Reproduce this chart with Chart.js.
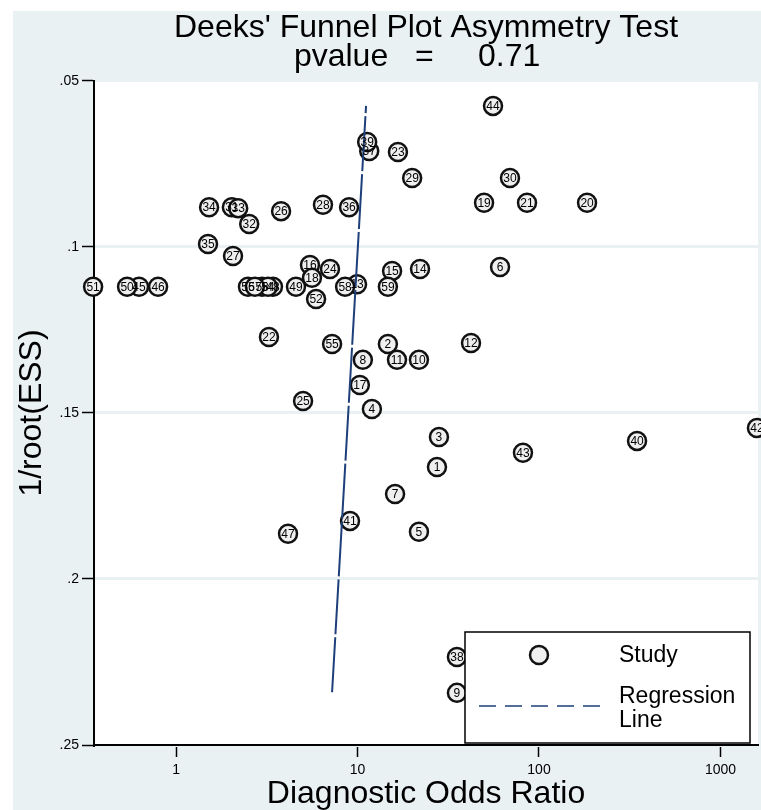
<!DOCTYPE html>
<html>
<head>
<meta charset="utf-8">
<script src="https://cdn.jsdelivr.net/npm/chart.js@4.4.1/dist/chart.umd.min.js"></script>
<style>
  html, body { margin: 0; padding: 0; background: #fff; }
  canvas { display: block; }
</style>
</head>
<body>
<canvas id="funnel" width="761" height="810"></canvas>
<script>
// study number, diagnostic odds ratio and 1/root(ESS)
var studyIds = [1, 2, 3, 4, 5, 6, 7, 8, 9, 10,
  11, 12, 13, 14, 15, 16, 17, 18, 19, 20,
  21, 22, 23, 24, 25, 26, 27, 28, 29, 30,
  31, 32, 33, 34, 35, 36, 37, 38, 39, 40,
  41, 42, 43, 44, 45, 46, 47, 48, 49, 50,
  51, 52, 53, 54, 55, 56, 57, 58, 59];
var dorValues = [27.4, 14.7, 28.1, 12.0, 21.8, 61.0, 16.1, 10.7, 35.3, 21.8,
  16.5, 42.2, 9.94, 22.1, 15.5, 5.47, 10.3, 5.61, 49.8, 184,
  85.9, 3.25, 16.7, 7.05, 5.01, 3.79, 2.06, 6.45, 20.0, 69.2,
  2.03, 2.53, 2.20, 1.52, 1.50, 8.98, 11.6, 35.3, 11.3, 347,
  9.09, 1589, 81.6, 55.8, 0.625, 0.796, 4.14, 3.42, 4.58, 0.537,
  0.349, 5.91, 2.98, 3.21, 7.24, 2.49, 2.72, 8.54, 14.7];
var essValues = [0.1663, 0.1292, 0.1572, 0.1488, 0.1858, 0.1060, 0.1744, 0.1340, 0.2343, 0.1340,
  0.1340, 0.1289, 0.1112, 0.1066, 0.1072, 0.1054, 0.1416, 0.1093, 0.0867, 0.0867,
  0.0867, 0.1271, 0.0714, 0.1066, 0.1464, 0.0892, 0.1027, 0.0873, 0.0792, 0.0792,
  0.0880, 0.0931, 0.0883, 0.0880, 0.0991, 0.0880, 0.0711, 0.2235, 0.0684, 0.1584,
  0.1825, 0.1545, 0.1620, 0.0575, 0.1120, 0.1120, 0.1864, 0.1120, 0.1120, 0.1120,
  0.1120, 0.1157, 0.1120, 0.1120, 0.1292, 0.1120, 0.1120, 0.1120, 0.1120];

// regression line ends
var regDor = [7.24, 11.14];
var regEss = [0.2341, 0.0575];

var xTickValues = [1, 10, 100, 1000];
var yTickValues = [0.05, 0.1, 0.15, 0.2, 0.25];
var yTickLabels = ['.05', '.1', '.15', '.2', '.25'];

var FONT = "'Liberation Sans', Arial, sans-serif";
var bgColor = '#eaf1f3';
var lineColor = '#1d3f7a';

var studyPoints = dorValues.map(function (v, i) { return { x: v, y: essValues[i] }; });
var regPoints = regDor.map(function (v, i) { return { x: v, y: regEss[i] }; });

// grey-blue frame with white plot region
var backdrop = {
  id: 'backdrop',
  beforeDraw: function (chart) {
    var ctx = chart.ctx, a = chart.chartArea;
    ctx.save();
    ctx.fillStyle = '#fff';
    ctx.fillRect(0, 0, chart.width, chart.height);
    ctx.fillStyle = bgColor;
    ctx.fillRect(13, 11, chart.width - 13, chart.height - 11);
    ctx.fillStyle = '#fff';
    ctx.fillRect(a.left, a.top, a.right - a.left, a.bottom - a.top);
    ctx.restore();
  }
};

// numbers inside the circles + the boxed legend
var studyLabels = {
  id: 'studyLabels',
  afterDatasetsDraw: function (chart) {
    var ctx = chart.ctx;
    var meta = chart.getDatasetMeta(1);
    ctx.save();
    ctx.font = '12px ' + FONT;
    ctx.fillStyle = '#000';
    ctx.textAlign = 'center';
    ctx.textBaseline = 'middle';
    meta.data.forEach(function (pt, i) {
      ctx.fillText(String(studyIds[i]), pt.x, pt.y + 0.5);
    });
    ctx.restore();
  },
  afterDraw: function (chart) {
    var ctx = chart.ctx;
    ctx.save();
    ctx.fillStyle = '#fff';
    ctx.fillRect(465, 632, 285, 111);
    ctx.strokeStyle = '#000';
    ctx.lineWidth = 1.5;
    ctx.strokeRect(465, 632, 285, 111);

    ctx.beginPath();
    ctx.arc(539, 655, 9, 0, Math.PI * 2);
    ctx.fillStyle = '#efefef';
    ctx.fill();
    ctx.lineWidth = 2.5;
    ctx.strokeStyle = '#111';
    ctx.stroke();

    ctx.beginPath();
    ctx.setLineDash([17, 9]);
    ctx.moveTo(479, 706);
    ctx.lineTo(600, 706);
    ctx.lineWidth = 1.5;
    ctx.strokeStyle = lineColor;
    ctx.stroke();
    ctx.setLineDash([]);

    ctx.fillStyle = '#000';
    ctx.font = '23px ' + FONT;
    ctx.textAlign = 'left';
    ctx.textBaseline = 'middle';
    ctx.fillText('Study', 619, 656);
    ctx.fillText('Regression', 619, 697);
    ctx.fillText('Line', 619, 721);
    ctx.restore();
  }
};

new Chart(document.getElementById('funnel'), {
  type: 'scatter',
  data: {
    datasets: [{
      label: 'Regression Line',
      data: regPoints,
      showLine: true,
      borderColor: lineColor,
      borderWidth: 2,
      borderDash: [55, 3],
      pointRadius: 0,
      pointHoverRadius: 0,
      fill: false
    }, {
      label: 'Study',
      data: studyPoints,
      pointRadius: 9,
      pointHoverRadius: 9,
      pointBorderWidth: 2.5,
      pointBackgroundColor: '#efefef',
      pointBorderColor: '#111',
      clip: false
    }]
  },
  options: {
    responsive: false,
    devicePixelRatio: 1,
    animation: false,
    events: [],
    layout: { autoPadding: false, padding: { top: 0, left: 0, right: 3, bottom: 0 } },
    plugins: {
      legend: { display: false },
      tooltip: { enabled: false },
      title: {
        display: true,
        fullSize: false,
        text: ["Deeks' Funnel Plot Asymmetry Test", 'pvalue   =     0.71  '],
        color: '#000',
        font: { family: FONT, size: 32, weight: 'normal', lineHeight: 0.906 },
        padding: { top: 13.5, bottom: 9.5 }
      }
    },
    scales: {
      x: {
        type: 'logarithmic',
        min: 0.353,
        max: 1610,
        afterBuildTicks: function (s) {
          s.ticks = xTickValues.map(function (v) { return { value: v }; });
        },
        afterFit: function (s) {
          s.height = 65;
          s.paddingLeft = 0;
          s.paddingRight = 0;
        },
        ticks: {
          color: '#000',
          font: { family: FONT, size: 14 },
          padding: 5,
          autoSkip: false,
          maxRotation: 0,
          callback: function (v) { return String(v); }
        },
        grid: { drawOnChartArea: false, drawTicks: true, tickLength: 12, tickColor: '#000', tickWidth: 1.5 },
        border: { color: '#000', width: 2 },
        title: {
          display: true,
          text: 'Diagnostic Odds Ratio',
          color: '#000',
          font: { family: FONT, size: 32, lineHeight: 1 },
          padding: { top: 0, bottom: 0 }
        }
      },
      y: {
        type: 'linear',
        reverse: true,
        min: 0.05,
        max: 0.25,
        afterBuildTicks: function (s) {
          s.ticks = yTickValues.map(function (v) { return { value: v }; });
        },
        afterFit: function (s) {
          s.width = 94;
          s.paddingTop = 0;
          s.paddingBottom = 0;
        },
        ticks: {
          color: '#000',
          font: { family: FONT, size: 14 },
          padding: 3,
          callback: function (v) { return yTickLabels[yTickValues.indexOf(v)]; }
        },
        grid: { color: bgColor, lineWidth: 3, tickColor: '#000', tickWidth: 1.5, tickLength: 12 },
        border: { color: '#000', width: 2 },
        title: {
          display: true,
          text: '1/root(ESS)',
          color: '#000',
          font: { family: FONT, size: 32, lineHeight: 1 },
          padding: { top: 16, bottom: 0 }
        }
      }
    }
  },
  plugins: [backdrop, studyLabels]
});
</script>
</body>
</html>
